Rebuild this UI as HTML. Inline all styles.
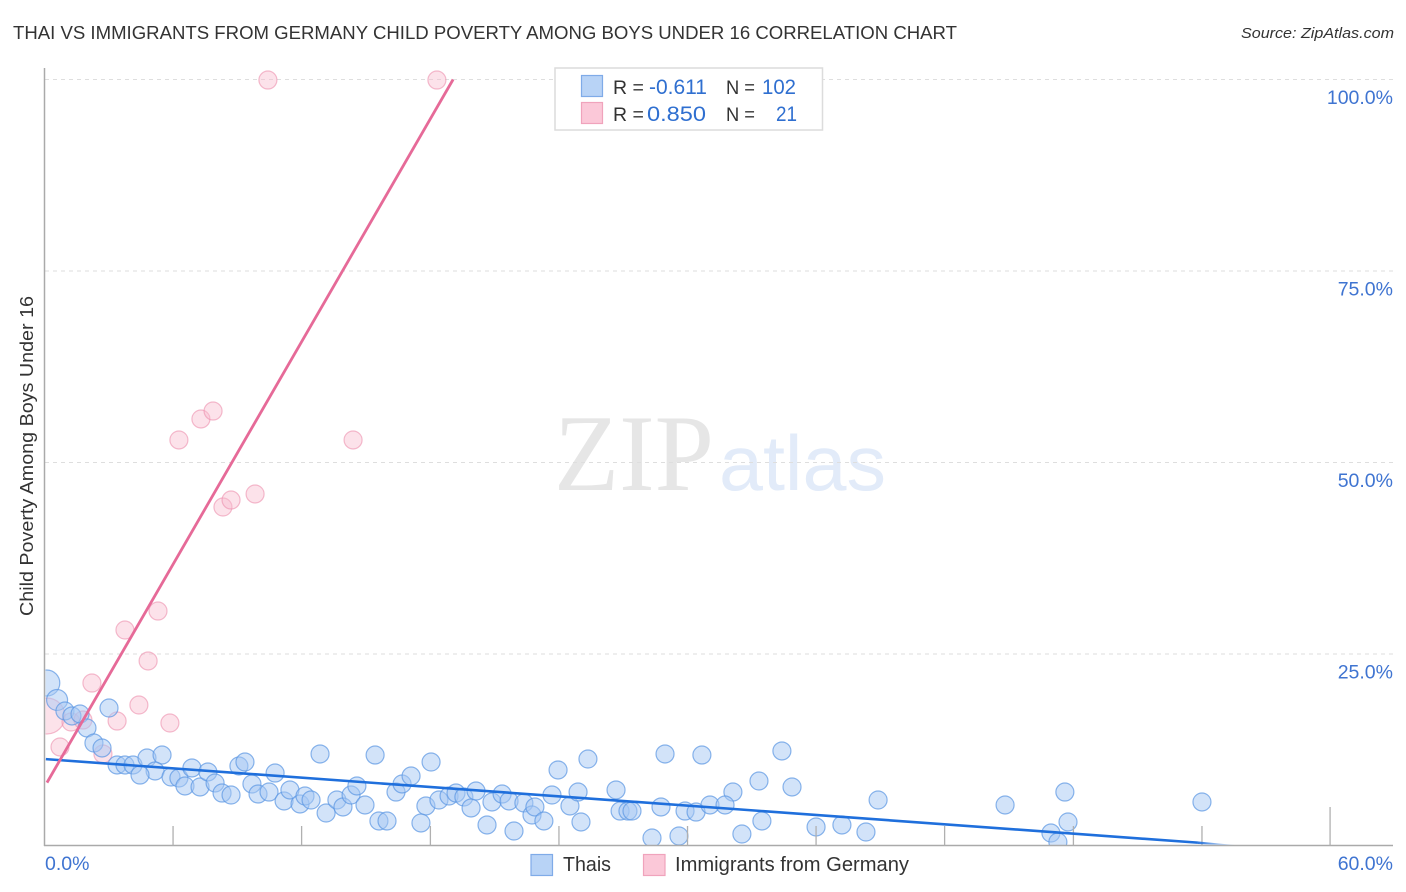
<!DOCTYPE html>
<html lang="en">
<head>
<meta charset="utf-8">
<title>Thai vs Immigrants from Germany Child Poverty Correlation Chart</title>
<style>
html,body{margin:0;padding:0;background:#fff;width:1406px;height:892px;overflow:hidden}
svg{display:block}
text{font-family:"Liberation Sans",sans-serif}
</style>
</head>
<body>
<svg id="chart" xmlns="http://www.w3.org/2000/svg" width="1406" height="892" viewBox="0 0 1406 892">
  <defs>
    <clipPath id="plot-clip"><rect x="45.5" y="60" width="1350" height="785.5"/></clipPath>
    <linearGradient id="thai-fade" gradientUnits="userSpaceOnUse" x1="1195" y1="0" x2="1237" y2="0">
      <stop offset="0" stop-color="#1f6fdc" stop-opacity="1"/>
      <stop offset="1" stop-color="#1f6fdc" stop-opacity="0"/>
    </linearGradient>
  </defs>
  <text x="13" y="39" font-size="18.5" fill="#333" textLength="944" lengthAdjust="spacingAndGlyphs">THAI VS IMMIGRANTS FROM GERMANY CHILD POVERTY AMONG BOYS UNDER 16 CORRELATION CHART</text>
  <text x="1394" y="38" font-size="15" font-style="italic" fill="#333" text-anchor="end" textLength="153" lengthAdjust="spacingAndGlyphs">Source: ZipAtlas.com</text>

  <g>
    <text x="554" y="490" font-size="109" fill="#e6e6e6" textLength="160" lengthAdjust="spacingAndGlyphs" style="font-family:'Liberation Serif',serif">ZIP</text>
    <text x="719" y="490" font-size="78" fill="#e2ebf9" textLength="167" lengthAdjust="spacingAndGlyphs">atlas</text>
  </g>

  <g id="grid"></g>
  <g id="points" clip-path="url(#plot-clip)"></g>
  <rect x="0" y="60" width="45" height="800" fill="#fff"/>
  <g id="axes"></g>
  <g id="trends" clip-path="url(#plot-clip)"></g>

  <text transform="translate(33,456) rotate(-90)" font-size="18.5" fill="#333" text-anchor="middle" textLength="320" lengthAdjust="spacingAndGlyphs">Child Poverty Among Boys Under 16</text>

  <g>
    <rect x="555" y="68" width="267.5" height="62" fill="#fff" stroke="#dcdcdc" stroke-width="1.5"/>
    <rect x="581.5" y="75.5" width="21" height="21" fill="#b8d3f6" stroke="#7fabe8" stroke-width="1.2"/>
    <rect x="581.5" y="102.5" width="21" height="21" fill="#fbc8d8" stroke="#f0a3bc" stroke-width="1.2"/>
    <text x="613" y="94" font-size="19.5" fill="#333">R =</text>
    <text x="649" y="94" font-size="21" fill="#2f6fd0" textLength="58" lengthAdjust="spacingAndGlyphs">-0.611</text>
    <text x="726" y="94" font-size="19.5" fill="#333" textLength="29" lengthAdjust="spacingAndGlyphs">N =</text>
    <text x="762" y="94" font-size="21" fill="#2f6fd0" textLength="34" lengthAdjust="spacingAndGlyphs">102</text>
    <text x="613" y="121" font-size="19.5" fill="#333">R =</text>
    <text x="647" y="121" font-size="21" fill="#2f6fd0" textLength="59" lengthAdjust="spacingAndGlyphs">0.850</text>
    <text x="726" y="121" font-size="19.5" fill="#333" textLength="29" lengthAdjust="spacingAndGlyphs">N =</text>
    <text x="776" y="121" font-size="21" fill="#2f6fd0" textLength="21" lengthAdjust="spacingAndGlyphs">21</text>
  </g>

  <g>
    <rect x="531" y="854.5" width="21.5" height="21" fill="#b8d3f6" stroke="#7fabe8" stroke-width="1.2"/>
    <text x="563" y="871" font-size="20" fill="#333" textLength="48" lengthAdjust="spacingAndGlyphs">Thais</text>
    <rect x="643.5" y="854.5" width="21.5" height="21" fill="#fbc8d8" stroke="#f0a3bc" stroke-width="1.2"/>
    <text x="675" y="871" font-size="20" fill="#333" textLength="234" lengthAdjust="spacingAndGlyphs">Immigrants from Germany</text>
  </g>
</svg>
<script>
const thaiX = [0.10,0.56,0.91,1.22,1.58,1.89,2.20,2.56,2.87,3.23,3.58,3.94,4.56,5.23,4.92,4.25,5.63,5.98,6.25,6.56,6.92,7.27,7.59,7.90,8.30,8.65,8.92,9.23,9.50,9.99,10.26,10.66,10.92,11.37,11.59,11.86,12.53,13.01,13.28,13.64,12.26,14.71,13.90,14.26,14.88,15.24,15.64,15.91,16.31,17.20,16.97,16.75,17.55,18.00,18.31,18.66,18.98,19.20,19.69,19.91,20.36,20.67,20.89,21.33,21.69,21.82,22.22,22.85,22.58,23.38,23.74,23.87,24.18,25.43,25.61,25.96,26.14,27.43,27.61,27.03,28.23,28.50,28.99,29.25,32.81,30.63,31.79,33.26,29.61,30.28,31.92,31.03,34.33,35.48,36.55,37.09,42.74,45.40,45.54,51.50,44.78,45.09];
const thaiY = [21.21,19.00,17.56,16.91,17.17,15.34,13.38,12.73,17.95,10.51,10.51,10.51,11.42,11.81,9.73,9.20,8.94,8.81,7.77,10.12,7.64,9.60,8.16,6.85,6.59,10.38,10.90,8.03,6.72,6.98,9.46,5.81,7.25,5.42,6.46,5.94,4.24,5.94,5.03,6.59,11.95,11.81,7.77,5.29,3.20,3.20,6.98,8.03,9.07,10.90,5.16,2.94,5.94,6.46,6.85,6.33,4.90,7.11,2.68,5.68,6.72,5.81,1.89,5.55,3.98,5.03,3.20,9.86,6.59,5.16,6.98,3.07,11.29,7.25,4.50,4.50,4.50,5.03,11.95,0.98,1.24,4.50,4.37,11.81,12.34,6.98,8.42,7.64,5.29,5.29,3.20,1.50,2.42,2.68,1.76,5.94,5.29,6.98,3.07,5.68,1.63,0.46];
const germanyX = [9.94,17.46,5.98,6.96,7.50,13.73,7.94,8.30,9.37,5.05,3.58,4.61,2.11,4.20,3.23,5.58,0.11,0.69,1.18,1.71,2.60];
const germanyY = [99.93,99.93,52.94,55.68,56.72,52.94,44.19,45.10,45.89,30.61,28.13,24.09,21.21,18.34,16.25,15.99,16.91,12.86,16.12,16.38,11.95];
const thaiWeightOverrides = {0: 2.1, 1: 1.36};
const germanyWeightOverrides = {16: 4};
const thaiTrend = [11.29, -0.2128];
const germanyTrend = [7.65, 5.08];
const xTickValues = [5.72,11.44,17.17,22.89,28.61,34.33,40.05,45.78,51.5,57.2];
const yTickValues = [25,50,75,100];
const yTickLabels = ["25.0%","50.0%","75.0%","100.0%"];
const xEndLabels = ["0.0%","60.0%"];

const NS = 'http://www.w3.org/2000/svg';
const xPx = v => 44.5 + v * 22.475;
const yPx = v => 845.5 - v * 7.66;
function mk(tag, parent, attrs) {
  const el = document.createElementNS(NS, tag);
  for (const k in attrs) el.setAttribute(k, attrs[k]);
  parent.appendChild(el);
  return el;
}
const grid = document.getElementById('grid');
const axes = document.getElementById('axes');
const pts = document.getElementById('points');
const trends = document.getElementById('trends');

yTickValues.forEach((v, i) => {
  const line = mk('line', grid, {x1: 45, x2: 1393, y1: yPx(v), y2: yPx(v), stroke: '#dedede', 'stroke-width': 1, 'stroke-dasharray': '4 4'});
  
  
  const label = mk('text', axes, {x: 1393, y: yPx(v) + 24.5, 'font-size': 19.5, fill: '#3f74d1', 'text-anchor': 'end'});
  label.textContent = yTickLabels[i];
  
  
});

const yAxis = mk('line', axes, {x1: 44.5, x2: 44.5, y1: 68, y2: 846, stroke: '#aaaaaa', 'stroke-width': 1.5});


const xAxis = mk('line', axes, {x1: 44, x2: 1393, y1: 845.5, y2: 845.5, stroke: '#aaaaaa', 'stroke-width': 1.5});



xTickValues.forEach((v, i) => {
  const top = i === xTickValues.length - 1 ? 807 : 826;
  const tick = mk('line', axes, {x1: xPx(v), x2: xPx(v), y1: top, y2: 845.5, stroke: '#b0b0b0', 'stroke-width': 1.3});
  
  
});

const xStart = mk('text', axes, {x: 45, y: 870, 'font-size': 19.5, fill: '#3f74d1'});
xStart.textContent = xEndLabels[0];


const xEnd = mk('text', axes, {x: 1393, y: 870, 'font-size': 19.5, fill: '#3f74d1', 'text-anchor': 'end'});
xEnd.textContent = xEndLabels[1];



germanyX.forEach((v, i) => {
  const w = germanyWeightOverrides[i] || 1;
  const c = mk('circle', pts, {cx: xPx(v), cy: yPx(germanyY[i]), r: 9 * Math.sqrt(w), fill: '#f9b9cd', 'fill-opacity': 0.42, stroke: '#ec8fae', 'stroke-opacity': 0.6, 'stroke-width': 1.2});
  
  
});
thaiX.forEach((v, i) => {
  const w = thaiWeightOverrides[i] || 1;
  const c = mk('circle', pts, {cx: xPx(v), cy: yPx(thaiY[i]), r: 9 * Math.sqrt(w), fill: '#a5c8f4', 'fill-opacity': 0.5, stroke: '#5a96e3', 'stroke-opacity': 0.7, 'stroke-width': 1.2});
  
  
});

const thaiZero = -thaiTrend[0] / thaiTrend[1];
const thaiSolidEnd = 51.3;
const thaiLine = mk('line', trends, {x1: xPx(0.06), y1: yPx(thaiTrend[0] + thaiTrend[1] * 0.06), x2: xPx(thaiSolidEnd), y2: yPx(thaiTrend[0] + thaiTrend[1] * thaiSolidEnd), stroke: '#1f6fdc', 'stroke-width': 2.6});


const thaiTail = mk('polygon', trends, {points: [xPx(thaiSolidEnd) + ',' + (yPx(thaiTrend[0] + thaiTrend[1] * thaiSolidEnd) - 1.3), xPx(thaiZero) + ',' + (yPx(0) - 0.2), xPx(thaiSolidEnd) + ',' + (yPx(thaiTrend[0] + thaiTrend[1] * thaiSolidEnd) + 1.3)].join(' '), fill: 'url(#thai-fade)'});


const gxEnd = (100 - germanyTrend[0]) / germanyTrend[1];
const germanyLine = mk('line', trends, {x1: xPx(0.11), y1: yPx(germanyTrend[0] + germanyTrend[1] * 0.11), x2: xPx(gxEnd), y2: yPx(100), stroke: '#e66a98', 'stroke-width': 2.8});


</script>
</body>
</html>
